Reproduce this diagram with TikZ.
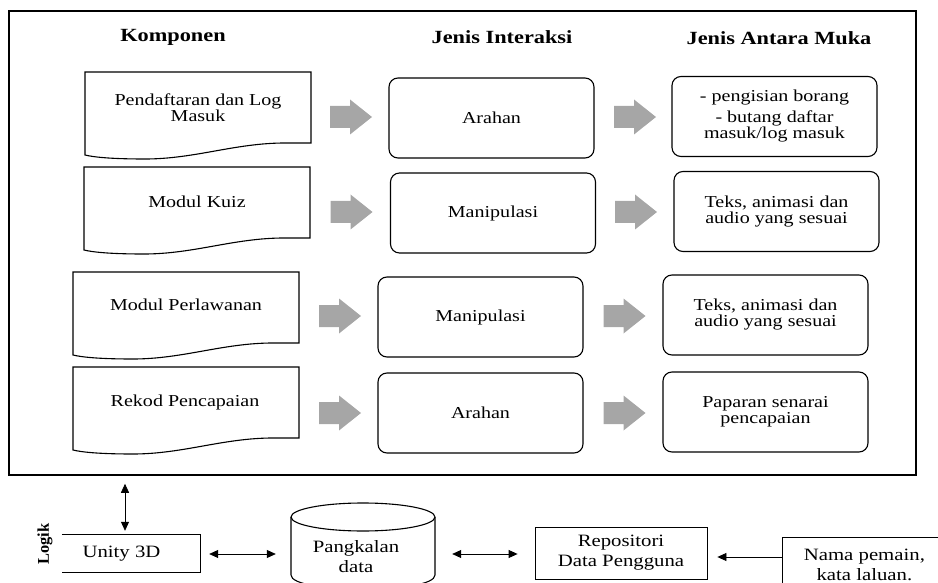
\documentclass[tikz,border=0pt]{standalone}
\usepackage{fontspec}
\setmainfont[FakeStretch=1.2]{Liberation Serif}
\newfontfamily\logikfont{Liberation Serif}
\usetikzlibrary{calc,arrows.meta}
\newcommand{\txtfont}{\fontsize{16.7}{16}\selectfont}
\newcommand{\headfont}{\fontsize{18.6}{20}\selectfont\bfseries}
\newcommand{\lowfont}{\fontsize{17.3}{20}\selectfont}

\begin{document}
\begin{tikzpicture}[
    x=1pt, y=-1pt,
    every node/.style={font=\txtfont, inner sep=0pt, align=center},
  ]
    \definecolor{arrowgray}{HTML}{A6A6A6}
    \tikzset{
      header/.style={font=\headfont},
      docpath/.style={line width=1.1pt},
      interbox/.style={draw, line width=1.1pt, rounded corners=9pt,
        minimum width=205pt, minimum height=80pt},
      lowbox/.style={draw, line width=0.8pt, font=\lowfont},
      link/.style={line width=0.8pt,
        {Triangle[length=9pt,width=8pt]}-{Triangle[length=9pt,width=8pt]}},
      linkone/.style={line width=0.8pt, -{Triangle[length=9pt,width=8pt]}},
    }
    \useasboundingbox (0,0) rectangle (938,583);
    \clip (0,0) rectangle (938,583);

    % ---- outer frame ----
    \node[draw, line width=1.5pt, minimum width=907pt, minimum height=464pt]
      (frame) at (462.5,243) {};

    % ---- column headers ----
    \node[header] (hkomp) at (173,37) {Komponen};
    \node[header] (hinter) at (502,37) {Jenis Interaksi};
    \node[header] (hmuka) at (779,38) {Jenis Antara Muka};

    % ---- components (document shapes) ----
    \foreach \x/\y in {85/72, 84/167, 73/272, 73/367}{
      \draw[docpath, shift={(\x,\y)}]
        (0,0) -- (226,0) -- (226,71) -- (200,71)
        .. controls (150,71) and (110,87) .. (60,87)
        .. controls (25,87) and (8,85) .. (0,83) -- cycle;
    }
    \node (komp1) at (198,108) {Pendaftaran dan Log\\Masuk};
    \node (komp2) at (197,202) {Modul Kuiz};
    \node (komp3) at (186,305) {Modul Perlawanan};
    \node (komp4) at (185,402) {Rekod Pencapaian};

    % ---- interaction types ----
    \node[interbox] (inter1) at (491.5,118) {Arahan};
    \node[interbox] (inter2) at (493,213) {Manipulasi};
    \node[interbox] (inter3) at (480.5,317) {Manipulasi};
    \node[interbox] (inter4) at (480.5,413) {Arahan};

    % ---- interface types ----
    \node[interbox] (face1) at (774.5,116.5)
      {- pengisian borang\\[5pt]- butang daftar\\masuk/log masuk};
    \node[interbox] (face2) at (776.5,211.5)
      {Teks, animasi dan\\audio yang sesuai};
    \node[interbox] (face3) at (765.5,315)
      {Teks, animasi dan\\audio yang sesuai};
    \node[interbox] (face4) at (765.5,412)
      {Paparan senarai\\pencapaian};

    % ---- grey block arrows ----
    \foreach \cx/\cy in {351/117, 351.5/212, 340/316, 340/413,
                         635/117, 636/212, 624.5/316, 624.5/413}{
      \fill[arrowgray, shift={(\cx,\cy)}]
        (-21,-11) -- (-1,-11) -- (-1,-17.5) -- (21,0)
        -- (-1,17.5) -- (-1,11) -- (-21,11) -- cycle;
    }

    % ---- bottom row ----
    \node[font=\logikfont\fontsize{16.4}{18}\selectfont\bfseries, rotate=90]
      (logik) at (45,544) {Logik};
    \node[minimum width=138pt, minimum height=37pt, font=\lowfont]
      (unity) at (131,553.5) {Unity 3D\hspace*{19pt}};
    \draw[line width=0.8pt] (unity.north west) -- (unity.north east)
      -- (unity.south east) -- (unity.south west);

    \draw[line width=1.1pt] (363,517) ellipse [x radius=72, y radius=14];
    \draw[line width=1.1pt] (291,517) -- (291,575)
      .. controls (291,594) and (435,594) .. (435,575) -- (435,517);
    \node[font=\lowfont, minimum width=144pt] (db) at (356,557) {Pangkalan\\data};

    \node[lowbox, minimum width=172pt, minimum height=52pt]
      (repo) at (621,553) {Repositori\\Data Pengguna};
    \node[lowbox, minimum width=164pt, minimum height=56pt, anchor=west]
      (nama) at (782,565) {Nama pemain,\\kata laluan.};

    \draw[link] ($(unity.north |- frame.south)+(-6,8)$) -- ($(unity.north)+(-6,-4)$);
    \draw[link] ($(unity.east)+(9,0.5)$) -- ($(db.west |- unity.east)+(-8,0.5)$);
    \draw[link] ($(db.east)+(24,-3)$) -- ($(repo.west)+(-17,1)$);
    \draw[linkone] ($(nama.west)+(0,-8)$) -- ($(repo.east)+(10,4)$);
  \end{tikzpicture}
\end{document}
